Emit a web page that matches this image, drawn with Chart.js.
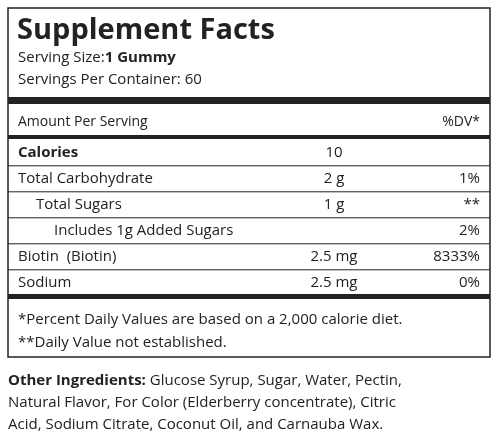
<!DOCTYPE html>
<html><head><meta charset="utf-8">
<script src="https://cdn.jsdelivr.net/npm/chart.js@4/dist/chart.umd.min.js"></script>
<style>html,body{margin:0;padding:0;background:#fff}#c{display:block}</style>
</head><body>
<canvas id="c" width="498" height="436"></canvas>
<script>
const rowNames = ['Calories', 'Total Carbohydrate', 'Total Sugars', 'Includes 1g Added Sugars', 'Biotin  (Biotin)', 'Sodium'];
const rowAmounts = ['10', '2 g', '1 g', '', '2.5 mg', '2.5 mg'];
const rowDV = ['', '1%', '**', '2%', '8333%', '0%'];
const rowIndent = [0, 0, 1, 2, 0, 0];
const servingSize = '1 Gummy';
const servings = '60';
const footnotes = ['*Percent Daily Values are based on a 2,000 calorie diet.', '**Daily Value not established.'];
const ingredients = ['Glucose Syrup, Sugar, Water, Pectin,', 'Natural Flavor, For Color (Elderberry concentrate), Citric', 'Acid, Sodium Citrate, Coconut Oil, and Carnauba Wax.'];

const F = '"Open Sans", Lato, sans-serif';
const labelPlugin = {
  id: 'label',
  afterDraw(chart) {
    const c = chart.ctx;
    c.save();
    c.fillStyle = '#222'; c.strokeStyle = '#222';
    c.lineWidth = 1.5;
    c.strokeRect(8, 8, 482, 349);
    c.textBaseline = 'middle';
    c.font = 'bold 29px ' + F;
    c.fillText('Supplement Facts', 17, 31);
    c.font = '15px ' + F;
    c.fillText('Serving Size:', 18, 58);
    const w = c.measureText('Serving Size:').width;
    c.font = 'bold 15px ' + F;
    c.fillText(servingSize, 18 + w, 58);
    c.font = '15px ' + F;
    c.fillText('Servings Per Container: ' + servings, 18, 80);
    c.fillRect(8, 97, 482, 7);
    c.font = '14px ' + F;
    c.fillText('Amount Per Serving', 18, 122);
    c.textAlign = 'right';
    c.fillText('%DV*', 480, 122);
    c.textAlign = 'left';
    c.fillRect(8, 135, 482, 4);
    const y = chart.scales.y;
    rowNames.forEach((n, i) => {
      const cy = y.getPixelForValue(i);
      c.font = (i === 0 ? 'bold 15px ' : '15px ') + F;
      c.fillText(n, 18 + rowIndent[i] * 18, cy);
      c.font = '15px ' + F;
      c.textAlign = 'center';
      c.fillText(rowAmounts[i], 334, cy);
      c.textAlign = 'right';
      c.fillText(rowDV[i], 480, cy);
      c.textAlign = 'left';
      if (i < rowNames.length - 1) {
        c.lineWidth = 1;
        c.beginPath();
        const ly = cy + 12.8;
        c.moveTo(8, ly); c.lineTo(490, ly); c.stroke();
      }
    });
    c.fillRect(8, 294, 482, 5);
    c.font = '15px ' + F;
    c.fillText(footnotes[0], 18, 320);
    c.fillText(footnotes[1], 18, 343);
    c.font = 'bold 15px ' + F;
    c.fillText('Other Ingredients:', 8, 381);
    const w2 = c.measureText('Other Ingredients: ').width;
    c.font = '15px ' + F;
    c.fillText(ingredients[0], 8 + w2, 381);
    c.fillText(ingredients[1], 8, 403);
    c.fillText(ingredients[2], 8, 425);
    c.restore();
  }
};

new Chart(document.getElementById('c'), {
  type: 'bar',
  data: { labels: rowNames, datasets: [{ data: rowNames.map(() => 0), backgroundColor: 'transparent' }] },
  options: {
    responsive: false, animation: false, indexAxis: 'y',
    layout: { padding: { top: 140, bottom: 140 } },
    plugins: { legend: { display: false }, tooltip: { enabled: false } },
    scales: {
      x: { display: false },
      y: { display: false, type: 'category', offset: true }
    }
  },
  plugins: [labelPlugin]
});
</script>
</body></html>
